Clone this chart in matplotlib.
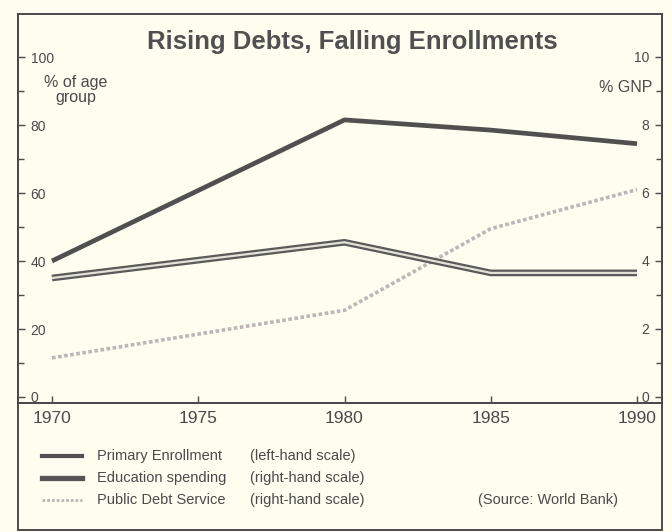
import matplotlib
matplotlib.use("Agg")
import matplotlib.pyplot as plt
from matplotlib.patches import Rectangle
from matplotlib.lines import Line2D
import matplotlib.patheffects as pe

years = [1970, 1980, 1985, 1990]
primary_enrollment = [40, 81.5, 78.5, 74.5]      # left-hand scale, % of age group
education_spending = [3.5, 4.55, 3.65, 3.65]     # right-hand scale, % GNP
debt_service = [1.15, 2.55, 4.95, 6.1]           # right-hand scale, % GNP
x_ticks = [1970, 1975, 1980, 1985, 1990]
left_ticks = [0, 20, 40, 60, 80, 100]
right_ticks = [0, 2, 4, 6, 8, 10]

BG = "#fdfdf0"
INK = "#4a4a4a"
W, H = 672, 532
FONT = ["Liberation Sans", "DejaVu Sans"]

fig = plt.figure(figsize=(W / 100, H / 100), dpi=100, facecolor=BG)

def fx(px):
    return px / W

def fy(py):
    return 1 - py / H

ax_l, ax_r, ax_t, ax_b = 18, 662, 14, 403
ax = fig.add_axes([fx(ax_l), fy(ax_b), fx(ax_r) - fx(ax_l), fy(ax_t) - fy(ax_b)])
ax.set_facecolor(BG)

# scale: 0 -> y 397, 100 -> y 57
ppu = 3.4
y0 = 397
ax.set_ylim(-(ax_b - y0) / ppu, (y0 - ax_t) / ppu)
ppy = (637 - 52) / 20
ax.set_xlim(1970 - (52 - ax_l) / ppy, 1990 + (ax_r - 637) / ppy)

ax2 = ax.twinx()
lo, hi = ax.get_ylim()
ax2.set_ylim(lo / 10, hi / 10)

# Lines
ax.plot(years, primary_enrollment, color="#505050", lw=3.4, solid_capstyle="butt", zorder=3)
ax2.plot(years, education_spending, color="#e2e2d6", lw=1.6, solid_capstyle="butt", zorder=3,
         path_effects=[pe.Stroke(linewidth=4.8, foreground="#5a5a5a"), pe.Normal()])
ax2.plot(years, debt_service, color="#bdb6b6", lw=2.6, ls=(0, (1.0, 0.7)), zorder=2)

# Spines
for a in (ax, ax2):
    for s in a.spines.values():
        s.set_color(INK)
        s.set_linewidth(1.4)
    a.spines["top"].set_visible(False)

# Ticks
ax.set_xticks(x_ticks)
ax.set_xticklabels([str(t) for t in x_ticks])
ax.tick_params(axis="x", direction="in", length=5, width=1, colors=INK, pad=6,
               labelsize=12.5)
for lab in ax.get_xticklabels():
    lab.set_family(FONT)

ax.set_yticks(left_ticks)
ax.set_yticks([10, 30, 50, 70, 90], minor=True)
ax.tick_params(axis="y", which="major", direction="in", length=5, width=1, colors=INK,
               pad=-9, labelsize=10)
ax.tick_params(axis="y", which="minor", direction="in", length=4, width=1, colors=INK)
for lab in ax.get_yticklabels():
    lab.set_horizontalalignment("left")
    lab.set_family(FONT)

ax2.set_yticks(right_ticks)
ax2.set_yticks([1, 3, 5, 7, 9], minor=True)
ax2.tick_params(axis="y", which="major", direction="in", length=5, width=1, colors=INK,
                pad=-9, labelsize=10)
ax2.tick_params(axis="y", which="minor", direction="in", length=4, width=1, colors=INK)
for lab in ax2.get_yticklabels():
    lab.set_horizontalalignment("right")
    lab.set_family(FONT)

# Outer frame
fig.patches.append(Rectangle((fx(ax_l), fy(530)), fx(ax_r) - fx(ax_l), fy(14) - fy(530),
                             transform=fig.transFigure, fill=False, edgecolor=INK, lw=1.4,
                             zorder=10))

# Title & axis labels
fig.text(fx(352), fy(42), "Rising Debts, Falling Enrollments", ha="center", va="center",
         fontsize=18.5, fontweight="bold", color="#505050", family=FONT)
fig.text(fx(76), fy(90), "% of age\ngroup", ha="center", va="center", fontsize=11.5,
         color=INK, family=FONT, linespacing=0.95)
fig.text(fx(626), fy(88), "% GNP", ha="center", va="center", fontsize=11.5,
         color=INK, family=FONT)

# Legend
leg_rows = [
    ("Primary Enrollment", "(left-hand scale)", dict(color="#505050", lw=3.0)),
    ("Education spending", "(right-hand scale)", dict(color="#555555", lw=3.8)),
    ("Public Debt Service", "(right-hand scale)", dict(color="#bdb6b6", lw=2.0, ls=(0, (1.0, 0.7)))),
]
for i, (name, scale, style) in enumerate(leg_rows):
    y = fy(456 + 22 * i)
    fig.add_artist(Line2D([fx(42), fx(82)], [y, y], transform=fig.transFigure, **style))
    fig.text(fx(97), y, name, ha="left", va="center", fontsize=10.5, color=INK,
             family=FONT)
    fig.text(fx(250), y, scale, ha="left", va="center", fontsize=10.5, color=INK,
             family=FONT)
fig.text(fx(478), fy(500), "(Source: World Bank)", ha="left", va="center", fontsize=10.5,
         color=INK, family=FONT)

fig.savefig("out.png", dpi=100, facecolor=BG)
